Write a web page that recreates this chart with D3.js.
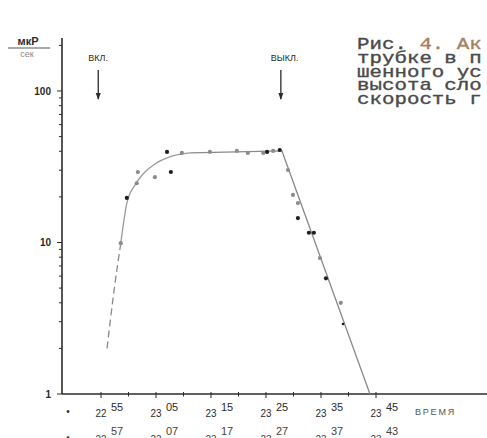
<!DOCTYPE html>
<html>
<head>
<meta charset="utf-8">
<script src="https://cdn.jsdelivr.net/npm/d3@7"></script>
<style>
  html, body { margin: 0; padding: 0; background: #fff; overflow: hidden; }
  svg { display: block; }
</style>
</head>
<body>
<svg id="chart" width="487" height="438"></svg>
<script>
// ── Data (time in minutes after 22:55, rate in мкР/сек) ──
const pointMin  = [3.6, 4.7, 6.5, 6.7, 9.8, 12.7, 12.0, 14.7, 19.8, 24.7, 26.7, 29.5, 30.2, 31.3, 32.5,
                   34.0, 34.9, 35.8, 35.8, 37.8, 38.7, 39.8, 40.9, 43.6, 44.0];
const pointRate = [9.9, 19.7, 24.6, 29.2, 27.0, 29.2, 39.6, 39.0, 39.6, 40.2, 39.0, 39.0, 39.6, 40.2, 40.8,
                   30.1, 20.6, 18.2, 14.5, 11.6, 11.6, 7.9, 5.8, 4.0, 2.9];
const darkDots  = [1, 5, 6, 12, 14, 18, 19, 20, 22, 24];

// fitted curve: dashed start, smooth rise, plateau, straight fall
const dashMin   = [1.1, 2.4, 3.6];
const dashRate  = [2.0, 4.9, 9.9];
const riseMin   = [3.6, 4.7, 6.2, 8.0, 9.8, 12.5, 16.2];
const riseRate  = [9.9, 18.2, 24, 29.2, 33, 36.7, 39];
const fallMin   = [16.2, 32.9, 48.9];
const fallRate  = [39, 40.2, 1];

const tickHour    = ['22', '23', '23', '23', '23', '23'];
const tickMinute  = ['55', '05', '15', '25', '35', '45'];
const tickMinute2 = ['57', '07', '17', '27', '37', '43'];
const tickOffsets = [0, 10, 20, 30, 40, 50];

const yLabels = [1, 10, 100];
const caption = ['Рис. 4. Ак', 'трубке в п', 'шенного ус', 'высота сло', 'скорость г'];

// ── Scales ──
const svg = d3.select('#chart');
const x = d3.scaleLinear().domain([0, 50]).range([101, 376]);
const y = d3.scaleLog().domain([1, 100]).range([394, 91]);
const X0 = 62, X1 = 487, YTOP = 38;

const ink = '#2b2b2b';
const sans = "'Liberation Sans', Arial, sans-serif";

// ── Axes ──
svg.append('line').attr('x1', X0).attr('x2', X0).attr('y1', YTOP).attr('y2', y(1))
  .attr('stroke', ink).attr('stroke-width', 1.6);
svg.append('line').attr('x1', X0).attr('x2', X1).attr('y1', y(1)).attr('y2', y(1))
  .attr('stroke', ink).attr('stroke-width', 1.6);

// y ticks (log, 2..9 per decade)
const yTicks = [];
[1, 10, 100].forEach(d => { for (let k = 1; k <= 9; k++) { const v = d * k; if (v <= 220) yTicks.push(v); } });
svg.append('g').selectAll('line').data(yTicks).enter().append('line')
  .attr('x1', d => yLabels.includes(d) ? X0 - 5 : X0 - 3).attr('x2', X0)
  .attr('y1', d => y(d)).attr('y2', d => y(d))
  .attr('stroke', ink).attr('stroke-width', 1);

svg.append('g').selectAll('text').data(yLabels).enter().append('text')
  .text(d => d)
  .attr('x', 51).attr('y', d => y(d) + 3.5)
  .attr('text-anchor', 'end').attr('font-family', sans).attr('font-weight', 700)
  .attr('font-size', '10px').attr('fill', ink);

// unit fraction
svg.append('text').text('мкР').attr('x', 28).attr('y', 45).attr('text-anchor', 'middle')
  .attr('font-family', sans).attr('font-weight', 700).attr('font-size', '11px').attr('fill', ink);
svg.append('line').attr('x1', 8).attr('x2', 50).attr('y1', 48).attr('y2', 48)
  .attr('stroke', '#555').attr('stroke-width', 1);
svg.append('text').text('сек').attr('x', 27).attr('y', 57).attr('text-anchor', 'middle')
  .attr('font-family', sans).attr('font-size', '9px').attr('fill', '#888');

// x ticks (every 5 min)
const xTicks = d3.range(0, 55, 5);
svg.append('g').selectAll('line').data(xTicks).enter().append('line')
  .attr('x1', d => x(d)).attr('x2', d => x(d))
  .attr('y1', y(1) - 2).attr('y2', d => d % 10 === 0 ? y(1) + 4 : y(1) + 2.5)
  .attr('stroke', ink).attr('stroke-width', 1);

// time labels, two rows
function timeRow(base, sup, hours, mins, color) {
  const g = svg.append('g').attr('font-family', sans).attr('fill', color);
  g.selectAll('text.h').data(tickOffsets).enter().append('text')
    .text((d, i) => hours[i])
    .attr('x', d => x(d)).attr('y', base)
    .attr('text-anchor', 'middle').attr('font-size', '11px')
    .attr('textLength', 11).attr('lengthAdjust', 'spacingAndGlyphs');
  g.selectAll('text.m').data(tickOffsets).enter().append('text')
    .text((d, i) => mins[i])
    .attr('x', d => x(d) + 16).attr('y', sup)
    .attr('text-anchor', 'middle').attr('font-size', '11px');
  g.append('text').text('•').attr('x', 68).attr('y', base - 2).attr('text-anchor', 'middle')
    .attr('font-size', '10px');
}
timeRow(417, 411, tickHour, tickMinute, ink);
timeRow(443, 435, tickHour, tickMinute2, '#444');

svg.append('text').text('ВРЕМЯ').attr('x', 415).attr('y', 415)
  .attr('font-family', sans).attr('font-size', '9px').attr('letter-spacing', '1.8px').attr('fill', '#555');

// ── On / off markers ──
const marks = [{ t: -0.5, l: 'ВКЛ.' }, { t: 32.7, l: 'ВЫКЛ.' }];
marks.forEach(m => {
  const mx = x(m.t);
  svg.append('text').text(m.l).attr('x', mx - 10).attr('y', 61)
    .attr('font-family', sans).attr('font-size', '9px').attr('fill', ink);
  svg.append('line').attr('x1', mx).attr('x2', mx).attr('y1', 70).attr('y2', 99)
    .attr('stroke', ink).attr('stroke-width', 1.3);
  svg.append('path').attr('d', `M${mx - 2.5},${93} L${mx + 2.5},${93} L${mx},${100} Z`).attr('fill', ink);
});

// ── Fitted curve ──
const toPts = (ts, vs) => ts.map((t, i) => [x(t), y(vs[i])]);
const line = d3.line().curve(d3.curveMonotoneX);
svg.append('path').attr('d', line(toPts(dashMin, dashRate)))
  .attr('fill', 'none').attr('stroke', '#8a8a8a').attr('stroke-width', 1.3).attr('stroke-dasharray', '7,4');
svg.append('path').attr('d', line(toPts(riseMin, riseRate)))
  .attr('fill', 'none').attr('stroke', '#9a9a9a').attr('stroke-width', 1.3);
svg.append('path').attr('d', d3.line()(toPts(fallMin, fallRate)))
  .attr('fill', 'none').attr('stroke', '#8a8a8a').attr('stroke-width', 1.3);

// ── Measured points ──
svg.append('g').selectAll('circle').data(pointMin).enter().append('circle')
  .attr('cx', d => x(d)).attr('cy', (d, i) => y(pointRate[i]))
  .attr('r', (d, i) => i === 24 ? 1.3 : 2.1)
  .attr('fill', (d, i) => darkDots.includes(i) ? '#1e1e1e' : '#8c8c8c');

// ── Caption (typewriter, wide glyphs) ──
const cap = svg.append('g').attr('transform', 'translate(357,0) scale(1.3,1)')
  .attr('font-family', "'Liberation Mono', 'DejaVu Sans Mono', monospace")
  .attr('font-size', '16px').attr('fill', '#4a4a4a')
  .attr('stroke', '#4a4a4a').attr('stroke-width', 0.35);
caption.forEach((s, i) => {
  const t = cap.append('text').attr('x', 0).attr('y', 49 + i * 13.8);
  if (i === 0) {
    t.append('tspan').text('Рис. ');
    t.append('tspan').text('4. Ак').attr('fill', '#a8805f').attr('stroke', '#a8805f');
  } else {
    t.text(s);
  }
});
</script>
</body>
</html>
